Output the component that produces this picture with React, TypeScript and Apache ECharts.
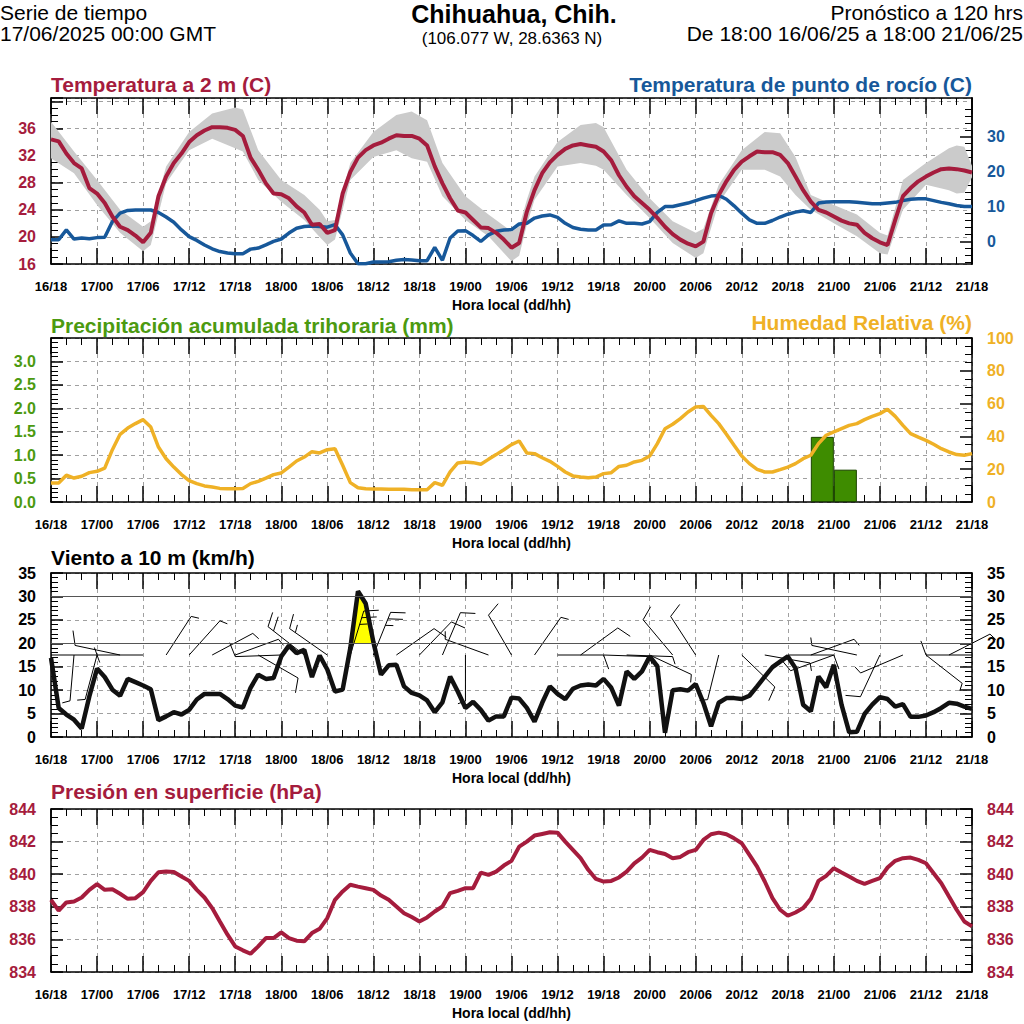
import React, { useEffect, useRef } from 'react';
import * as echarts from 'echarts';

// ---------- DATA ----------
const timeLabels = ['16/18', '17/00', '17/06', '17/12', '17/18', '18/00', '18/06', '18/12', '18/18', '19/00', '19/06', '19/12', '19/18', '20/00', '20/06', '20/12', '20/18', '21/00', '21/06', '21/12', '21/18'];
const hours = Array.from({ length: 121 }, (_, i) => i);

const temp2m = [
  34.4, 34.1, 32.3, 30.9, 30.1, 27.2, 26.4, 25, 23, 21.5,
  21, 20.2, 19.2, 20.6, 26, 28.9, 30.9, 32.3, 34, 35,
  35.7, 36.2, 36.2, 36.1, 35.8, 34.9, 31.7, 29.9, 27.9, 26.4,
  26.3, 25.7, 24.5, 23.6, 21.8, 21.9, 20.6, 21, 26.4, 29.6,
  31.7, 32.8, 33.5, 33.9, 34.5, 35, 34.9, 34.9, 34.5, 33.5,
  30.4, 27.9, 25.7, 23.9, 23.6, 22.5, 21.4, 21.3, 20.6, 19.6,
  18.4, 19.1, 23.7, 26.9, 29.4, 31, 32.1, 33, 33.5, 33.7,
  33.5, 33.3, 32.6, 31.3, 29.1, 27.4, 26, 25, 24, 22.8,
  21.5, 20.4, 19.6, 19, 18.6, 19.3, 23.5, 26.2, 28.2, 29.9,
  31.1, 31.9, 32.6, 32.5, 32.5, 32.1, 30.9, 28.9, 26.9, 25.2,
  24, 23.6, 23, 22.4, 22, 21.8, 20.6, 19.8, 19.2, 18.8,
  22.5, 26, 27.2, 28.2, 28.9, 29.5, 30, 30.1, 30, 29.8, 29.5,
];

const dewPoint = [
  0.5, 0.5, 3.3, 0.7, 1.0, 0.8, 1.1, 1.2, 5.7, 8.1,
  8.9, 9.0, 9.0, 9.0, 8.3, 7.0, 5.5, 3.3, 1.4, 0.3,
  -1.0, -2.1, -2.9, -3.3, -3.5, -3.5, -2.2, -1.9, -1.0, 0,
  0.7, 2.4, 3.8, 4.3, 4.4, 4.3, 4.1, 4.8, 1.9, -3.3,
  -6.4, -6.4, -5.9, -5.9, -5.8, -5.4, -5.2, -5.3, -5.5, -5.5,
  -1.7, -5.4, 1.0, 3.0, 3.1, 1.7, 0, 1.9, 2.9, 3.3,
  3.4, 5.0, 5.2, 6.7, 7.3, 7.6, 6.9, 5.2, 4.0, 3.5,
  3.3, 3.3, 4.7, 4.8, 5.9, 5.2, 5.2, 5.0, 5.7, 8.3,
  10, 10, 10.5, 11, 11.7, 12.4, 13, 13.2, 12.1, 10.2,
  8.1, 6.2, 5.2, 5.2, 6.0, 7.0, 7.8, 8.4, 8.8, 8.3,
  11, 11.3, 11.4, 11.4, 11.4, 11.2, 11, 10.8, 10.8, 11,
  11.2, 11.7, 12.1, 12.2, 12.2, 11.7, 11.2, 10.8, 10.3, 10, 10,
];

const bandHours = [0, 3, 6, 9, 12, 13, 15, 18, 21, 24, 25, 27, 30, 33, 35, 36, 37, 39, 42, 45, 47, 49, 51, 54, 57, 60, 61, 62, 63, 66, 69, 71, 72, 75, 78, 81, 84, 85, 87, 90, 93, 95, 97, 99, 102, 105, 108, 109, 111, 114, 117, 118, 119, 120];
const bandHigh = [37.0, 32.6, 28.4, 24.0, 21.5, 22.3, 30.4, 35.5, 38.2, 39.1, 38.8, 32.8, 28.4, 26.2, 24.0, 22.3, 22.5, 30.9, 35.5, 38.0, 38.5, 37.2, 30.9, 26.0, 23.3, 20.8, 21.5, 25.5, 28.9, 34.0, 36.5, 36.8, 36.2, 29.9, 25.7, 22.3, 20.6, 21.2, 27.7, 32.8, 35.5, 35.3, 31.8, 26.2, 24.7, 23.3, 20.6, 20.2, 28.4, 30.9, 33.1, 33.5, 33.3, 30.5];
const bandLow = [31.6, 29.4, 24.7, 20.6, 17.9, 18.8, 27.9, 32.8, 34.5, 33.1, 32.6, 28.4, 25.2, 22.5, 20.0, 18.8, 19.6, 28.4, 31.8, 32.8, 31.6, 31.1, 26.0, 22.5, 20.1, 16.4, 17.2, 21.8, 25.5, 30.4, 30.9, 30.5, 29.9, 26.2, 22.8, 19.1, 16.9, 17.6, 25.0, 29.9, 29.9, 28.9, 26.2, 24.0, 22.0, 20.1, 17.6, 17.4, 24.0, 27.7, 26.9, 26.4, 26.5, 28.8];

const relHum = [
  11.6, 11.6, 16.3, 14.6, 15.7, 17.9, 18.7, 20.7, 31.9, 41.3,
  45.1, 47.8, 50.2, 45.7, 33.5, 26.4, 21.3, 16.7, 13, 11.2,
  9.8, 9.1, 8.3, 8.1, 8.1, 8.3, 11.2, 12.6, 14.6, 16.7,
  17.7, 21.3, 25, 27.4, 30.7, 29.9, 31.9, 32.5, 22.4, 11.8,
  8.7, 8.1, 7.9, 7.9, 7.7, 7.7, 7.7, 7.5, 7.5, 7.5,
  11.8, 10.2, 18.3, 23.8, 24.4, 24, 23, 26, 28.9, 31.9,
  35, 37.2, 29.9, 29.5, 27, 24.8, 21.7, 18.3, 15.9, 15.2,
  14.8, 15.2, 17.3, 17.9, 21.7, 22.4, 24.4, 25.4, 28, 35.6,
  44.7, 47.4, 50.8, 54.9, 57.9, 58.3, 52.8, 47.8, 41.3, 34.6,
  28, 23.4, 19.9, 18.3, 18.3, 19.7, 21.3, 23.4, 26.4, 28.5,
  35.6, 40.7, 42.7, 44.7, 46.7, 47.8, 50.2, 52.2, 53.9, 56.5,
  52.2, 46.7, 41.7, 39.6, 37.6, 35.2, 32.5, 30.5, 28.9, 28.5, 29.5,
];

const precipHours = [100.5, 103.5];
const precipValues = [1.39, 0.69];

const windSpeed = [
  16.9, 6.2, 4.8, 3.7, 1.8, 8.7, 14.6, 12.8, 10.1, 8.8,
  12.4, 11.7, 11, 10.2, 3.6, 4.4, 5.3, 4.8, 5.8, 8,
  9.2, 9.2, 9.2, 8.1, 6.7, 6.3, 10.5, 13.3, 12.4, 12.6,
  17.2, 19.5, 17.9, 18.6, 12.8, 17.4, 14.4, 9.7, 10.1, 19,
  31.1, 28.5, 20.3, 13.3, 15.3, 15.4, 10.8, 9.4, 8.9, 7.8,
  5.3, 7.4, 12.9, 9.7, 6.2, 7.5, 5.8, 3.5, 4.4, 4.4,
  8.4, 8.2, 6.2, 3.3, 7.3, 10.8, 9.2, 8.1, 10.3, 11,
  11.2, 11, 12.4, 10.5, 6.7, 14, 12.4, 14, 17.2, 15.1,
  0.9, 10, 10.2, 9.9, 11.3, 7.3, 2.3, 7.3, 8.3, 8.3,
  8.1, 8.8, 10.8, 12.9, 14.9, 16.1, 17.2, 14.7, 6.9, 5.5,
  12.9, 10.6, 15.4, 6.9, 1.0, 1.1, 4.9, 6.9, 8.5, 8.1,
  6.5, 7, 4.3, 4.3, 4.6, 5.3, 6.2, 7.3, 7.1, 6.5, 6,
];

const barbHours = Array.from({ length: 41 }, (_, i) => i * 3);
const barbDir = [90, 185, 195, 282, 270, 33, 42, 62, 70, 120, 268, 308, 305, 17, 22, 55, 44, 23, 180, 290, 330, 35, 90, 54, 92, 92, 115, 320, 327, 194, 134, 100, 90, 70, 250, 282, 205, 247, 128, 63, 270];
const barbKnots = [5, 5, 5, 10, 5, 5, 5, 5, 5, 10, 10, 20, 15, 25, 25, 10, 10, 10, 5, 5, 10, 5, 10, 10, 5, 5, 5, 10, 10, 5, 10, 5, 10, 5, 10, 5, 10, 5, 5, 5, 10];

const pressure = [
  838.43, 837.76, 838.27, 838.33, 838.57, 839.04, 839.39, 839.04, 839.08, 838.8,
  838.49, 838.53, 838.9, 839.59, 840.12, 840.16, 840.14, 839.86, 839.59, 839.04,
  838.57, 837.92, 837.1, 836.29, 835.57, 835.33, 835.12, 835.57, 836.08, 836.08,
  836.43, 836.08, 835.92, 835.88, 836.39, 836.65, 837.31, 838.43, 838.94, 839.35,
  839.24, 839.14, 839.04, 838.69, 838.43, 838.02, 837.61, 837.37, 837.1, 837.35,
  837.71, 838.02, 838.84, 838.98, 839.14, 839.14, 840.1, 839.96, 840.16, 840.53,
  840.82, 841.69, 842, 842.37, 842.47, 842.57, 842.55, 842, 841.49, 840.98,
  840.27, 839.71, 839.55, 839.59, 839.8, 840.16, 840.67, 841.02, 841.49, 841.35,
  841.24, 840.98, 841.06, 841.35, 841.49, 842.1, 842.45, 842.55, 842.45, 842.2,
  841.9, 841.18, 840.47, 839.55, 838.53, 837.82, 837.45, 837.65, 837.92, 838.49,
  839.59, 839.9, 840.37, 840.1, 839.86, 839.59, 839.41, 839.59, 839.76, 840.41,
  840.82, 840.98, 841.02, 840.88, 840.67, 840.06, 839.45, 838.63, 837.82, 837.1, 836.8,
];

// ---------- STYLE ----------
const FONT = '"Liberation Sans", Arial, Helvetica, sans-serif';
const RED = '#a51c3d';
const BLUE = '#17589a';
const GREEN = '#4c9a10';
const ORANGE = '#efb126';
const GRID_LEFT = 51;
const GRID_RIGHT = 52;

const pairs = (xs: number[], ys: number[]) => xs.map((x, i) => [x, ys[i]]);

function regionsAbove(values: number[], threshold: number) {
  const polys: number[][][] = [];
  let cur: number[][] | null = null;
  for (let i = 0; i < values.length; i++) {
    const v = values[i];
    if (v > threshold) {
      if (!cur) {
        cur = [];
        if (i > 0) {
          const v0 = values[i - 1];
          cur.push([i - 1 + (threshold - v0) / (v - v0), threshold]);
        } else cur.push([i, threshold]);
      }
      cur.push([i, v]);
    } else if (cur) {
      const v0 = values[i - 1];
      cur.push([i - 1 + (threshold - v0) / (v - v0), threshold]);
      polys.push(cur);
      cur = null;
    }
  }
  if (cur) {
    cur.push([values.length - 1, threshold]);
    polys.push(cur);
  }
  return polys;
}

const axisLine = { show: true, onZero: false, lineStyle: { color: '#000', width: 1.5 } };
const dashed = { show: true, lineStyle: { color: '#a0a0a0', type: [4, 4] as any, width: 1 } };

function xBottom(grid: number) {
  return {
    type: 'value', gridIndex: grid, position: 'bottom', min: 0, max: 120, interval: 6,
    axisLine,
    axisTick: { show: true, inside: true, length: 16, lineStyle: { color: '#000', width: 1.5 } },
    minorTick: { show: true, splitNumber: 3, length: 7, lineStyle: { color: '#000', width: 1 } },
    axisLabel: {
      show: true, margin: 16, color: '#000', fontWeight: 'bold', fontSize: 13, fontFamily: FONT,
      formatter: (v: number) => timeLabels[Math.round(v / 6)] ?? '',
    },
    splitLine: dashed,
    name: 'Hora local (dd/hh)', nameLocation: 'middle', nameGap: 34,
    nameTextStyle: { color: '#000', fontWeight: 'bold', fontSize: 14, fontFamily: FONT },
  };
}
function xTop(grid: number) {
  return {
    type: 'value', gridIndex: grid, position: 'top', min: 0, max: 120, interval: 6,
    axisLine,
    axisTick: { show: true, inside: true, length: 16, lineStyle: { color: '#000', width: 1.5 } },
    minorTick: { show: true, splitNumber: 3, length: 7, lineStyle: { color: '#000', width: 1 } },
    axisLabel: { show: false },
    splitLine: { show: false },
  };
}
function yAxis(grid: number, pos: string, min: number, max: number, interval: number, minorSplit: number, color: string, opts: any = {}) {
  return {
    type: 'value', gridIndex: grid, position: pos, min, max, interval,
    axisLine,
    axisTick: { show: true, inside: true, length: 12, lineStyle: { color: '#000', width: 1.5 } },
    minorTick: { show: true, splitNumber: minorSplit, length: 7, lineStyle: { color: '#000', width: 1 } },
    axisLabel: { show: true, margin: 15, color, fontWeight: 'bold', fontSize: 16, fontFamily: FONT, ...(opts.axisLabel || {}) },
    splitLine: opts.split ? dashed : { show: false },
  };
}

const dewMin = -6.46;
const dewMax = 41.1;
const dewMajor = [0, 10, 20, 30];
const dewMinor = Array.from({ length: 24 }, (_, i) => -6 + i * 2).filter((v) => v % 10 !== 0);

function buildOption() {
  const windPolys = regionsAbove(windSpeed, 20);
  const txt = (text: string, x: number, y: number, size: number, color: string, align: string, bold = true) => ({
    type: 'text', x, y, silent: true,
    style: {
      text, fill: color, fontSize: size, fontWeight: bold ? 'bold' : 'normal', fontFamily: FONT,
      align, verticalAlign: 'middle', textAlign: align, textVerticalAlign: 'middle',
    },
  });

  return {
    animation: false,
    backgroundColor: '#fff',
    grid: [
      { left: GRID_LEFT, right: GRID_RIGHT, top: 98, height: 166 },
      { left: GRID_LEFT, right: GRID_RIGHT, top: 338, height: 164 },
      { left: GRID_LEFT, right: GRID_RIGHT, top: 573, height: 164 },
      { left: GRID_LEFT, right: GRID_RIGHT, top: 809, height: 163 },
    ],
    xAxis: [xBottom(0), xTop(0), xBottom(1), xTop(1), xBottom(2), xTop(2), xBottom(3), xTop(3)],
    yAxis: [
      yAxis(0, 'left', 16, 40.5, 4, 4, RED, { split: true, axisLabel: { formatter: (v: number) => (v > 37 ? '' : String(v)) } }),
      {
        type: 'value', gridIndex: 0, position: 'right', min: dewMin, max: dewMax,
        axisLine,
        axisTick: { show: true, inside: true, length: 12, customValues: dewMajor, lineStyle: { color: '#000', width: 1.5 } },
        axisLabel: { show: true, margin: 15, color: BLUE, fontWeight: 'bold', fontSize: 16, fontFamily: FONT, customValues: dewMajor },
        splitLine: { show: false },
      },
      {
        type: 'value', gridIndex: 0, position: 'right', min: dewMin, max: dewMax,
        axisLine,
        axisTick: { show: true, inside: true, length: 7, customValues: dewMinor, lineStyle: { color: '#000', width: 1 } },
        axisLabel: { show: false },
        splitLine: { show: false },
      },
      yAxis(1, 'left', 0, 3.5, 0.5, 5, GREEN, { split: true, axisLabel: { formatter: (v: number) => (v > 3.2 ? '' : v.toFixed(1)) } }),
      yAxis(1, 'right', 0, 100, 20, 4, ORANGE),
      yAxis(2, 'left', 0, 35, 5, 5, '#000', { split: true }),
      yAxis(2, 'right', 0, 35, 5, 5, '#000'),
      yAxis(3, 'left', 834, 844, 2, 4, RED, { split: true }),
      yAxis(3, 'right', 834, 844, 2, 4, RED),
    ],
    graphic: [
      txt('Serie de tiempo', 0, 12, 21, '#000', 'left', false),
      txt('17/06/2025 00:00 GMT', 0, 33, 21, '#000', 'left', false),
      txt('Chihuahua, Chih.', 514, 14, 25, '#000', 'center', true),
      txt('(106.077 W, 28.6363 N)', 512, 38, 17, '#000', 'center', false),
      txt('Pronóstico a 120 hrs', 1023, 12, 21, '#000', 'right', false),
      txt('De 18:00 16/06/25 a 18:00 21/06/25', 1023, 33, 21, '#000', 'right', false),
      txt('Temperatura a 2 m (C)', 51, 84, 21, RED, 'left'),
      txt('Temperatura de punto de rocío (C)', 972, 84, 21, BLUE, 'right'),
      txt('Precipitación acumulada trihoraria (mm)', 51, 325, 21, GREEN, 'left'),
      txt('Humedad Relativa (%)', 972, 322, 21, ORANGE, 'right'),
      txt('Viento a 10 m (km/h)', 51, 557, 21, '#000', 'left'),
      txt('Presión en superficie (hPa)', 51, 791, 21, RED, 'left'),
    ],
    series: [
      {
        type: 'custom', name: 'rango', xAxisIndex: 0, yAxisIndex: 0, silent: true, z: 1,
        data: [[0, 16]],
        renderItem: (_p: any, api: any) => {
          const pts: number[][] = [];
          for (let i = 0; i < bandHours.length; i++) pts.push(api.coord([bandHours[i], bandHigh[i]]));
          for (let i = bandHours.length - 1; i >= 0; i--) pts.push(api.coord([bandHours[i], bandLow[i]]));
          return { type: 'polygon', shape: { points: pts }, style: { fill: '#cbcbcb' } };
        },
      },
      {
        type: 'line', name: 'Punto de rocío', xAxisIndex: 0, yAxisIndex: 1, data: pairs(hours, dewPoint),
        showSymbol: false, symbol: 'none', lineStyle: { color: BLUE, width: 3.5 }, z: 3,
      },
      {
        type: 'line', name: 'Temperatura', xAxisIndex: 0, yAxisIndex: 0, data: pairs(hours, temp2m),
        showSymbol: false, symbol: 'none', lineStyle: { color: RED, width: 4 }, z: 4,
      },
      {
        type: 'bar', name: 'Precipitación', xAxisIndex: 2, yAxisIndex: 3, data: pairs(precipHours, precipValues),
        barWidth: 23, itemStyle: { color: '#3e8c00', borderColor: '#1c4400', borderWidth: 1 }, z: 2,
      },
      {
        type: 'line', name: 'Humedad', xAxisIndex: 2, yAxisIndex: 4, data: pairs(hours, relHum),
        showSymbol: false, symbol: 'none', lineStyle: { color: ORANGE, width: 3.5 }, z: 3,
      },
      {
        type: 'custom', name: 'viento fuerte', xAxisIndex: 4, yAxisIndex: 5, silent: true, z: 2,
        data: windPolys.map((_, i) => [i, 20]),
        renderItem: (p: any, api: any) => {
          const poly = windPolys[p.dataIndex];
          return { type: 'polygon', shape: { points: poly.map((pt) => api.coord(pt)) }, style: { fill: '#ffff00' } };
        },
      },
      {
        type: 'custom', name: 'barbas', xAxisIndex: 4, yAxisIndex: 5, silent: true, z: 3,
        data: barbHours.map((h, i) => [h, barbDir[i], barbKnots[i]]),
        renderItem: (_p: any, api: any) => {
          const h = api.value(0);
          const d = api.value(1);
          const kt = api.value(2);
          const base = api.coord([h, 17.5]);
          const r = (d * Math.PI) / 180;
          const ux = Math.sin(r);
          const uy = -Math.cos(r);
          const L = 46;
          const tx = base[0] + ux * L;
          const ty = base[1] + uy * L;
          const fr = ((d + 70) * Math.PI) / 180;
          const fx = Math.sin(fr);
          const fy = -Math.cos(fr);
          const st = { stroke: '#000', lineWidth: 1 };
          const children: any[] = [{ type: 'line', shape: { x1: base[0], y1: base[1], x2: tx, y2: ty }, style: st }];
          let rem = kt;
          let pos = 0;
          while (rem >= 10) {
            const bx = tx - ux * pos;
            const by = ty - uy * pos;
            children.push({ type: 'line', shape: { x1: bx, y1: by, x2: bx + fx * 15, y2: by + fy * 15 }, style: st });
            pos += 7;
            rem -= 10;
          }
          if (rem >= 5) {
            const bx = tx - ux * pos;
            const by = ty - uy * pos;
            children.push({ type: 'line', shape: { x1: bx, y1: by, x2: bx + fx * 8, y2: by + fy * 8 }, style: st });
          }
          return { type: 'group', children };
        },
      },
      {
        type: 'line', name: 'Viento', xAxisIndex: 4, yAxisIndex: 5, data: pairs(hours, windSpeed),
        showSymbol: false, symbol: 'none', lineStyle: { color: '#111', width: 4.5 }, z: 4,
        markLine: {
          silent: true, symbol: ['none', 'none'], label: { show: false },
          lineStyle: { color: '#555', type: 'solid', width: 1 },
          data: [{ yAxis: 20 }, { yAxis: 30 }],
        },
      },
      {
        type: 'line', name: 'Presión', xAxisIndex: 6, yAxisIndex: 7, data: pairs(hours, pressure),
        showSymbol: false, symbol: 'none', lineStyle: { color: RED, width: 4 }, z: 3,
      },
    ],
  };
}

export default function App() {
  const ref = useRef<HTMLDivElement>(null);
  useEffect(() => {
    if (!ref.current) return;
    const chart = echarts.init(ref.current, undefined, { renderer: 'svg' });
    chart.setOption(buildOption() as any);
    return () => chart.dispose();
  }, []);
  return (
    <div
      ref={ref}
      style={{ position: 'fixed', left: 0, top: 0, width: 1024, height: 1024, background: '#fff' }}
    />
  );
}
